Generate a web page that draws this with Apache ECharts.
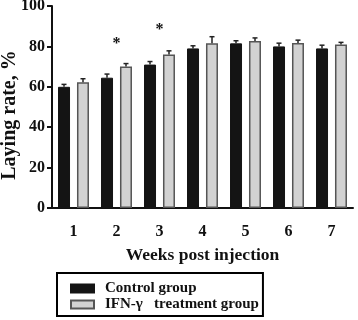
<!DOCTYPE html>
<html>
<head>
<meta charset="utf-8">
<script src="https://cdn.jsdelivr.net/npm/echarts@6/dist/echarts.min.js"></script>
<style>
  html, body { margin: 0; padding: 0; background: #fff; }
  #chart { width: 358px; height: 320px; }
</style>
</head>
<body>
<div id="chart"></div>
<script>
  // weeks post injection
  const weeks = ['1', '2', '3', '4', '5', '6', '7'];
  const controlRate = [60, 64.5, 71, 79, 81.5, 80, 79];
  const controlErr = [1.2, 1.8, 1.5, 1.3, 1.3, 1.6, 1.6];
  const ifnRate = [62.2, 70, 76, 81.5, 82.7, 81.7, 81];
  const ifnErr = [1.8, 1.5, 1.8, 3.3, 1.5, 1.4, 1.0];
  // significance marks: [week index, height]
  const stars = [[1, 83], [2, 90]];
  const yTicks = [0, 20, 40, 60, 80, 100];

  const fontFamily = '"Liberation Serif", "DejaVu Serif", serif';
  const barW = 12;
  const half = 9.5; // bar centre offset from category centre

  const errData = [];
  controlRate.forEach(function (v, i) { errData.push([i, v, controlErr[i], -1]); });
  ifnRate.forEach(function (v, i) { errData.push([i, v, ifnErr[i], 1]); });

  var chart = echarts.init(document.getElementById('chart'));
  var option = {
    animation: false,
    grid: { left: 52, right: 5, top: 6, bottom: 112, containLabel: false, outerBoundsMode: 'none' },
    legend: {
      orient: 'vertical',
      left: 57,
      top: 273,
      height: 40,
      padding: [8, 4, 4, 13],
      itemGap: 1,
      itemWidth: 23,
      itemHeight: 8,
      icon: 'rect',
      borderColor: '#000',
      borderWidth: 2,
      borderRadius: 0,
      textStyle: { fontFamily: fontFamily, fontWeight: 'bold', fontSize: 15, color: '#111', padding: [0, 0, 0, 6] },
      data: ['Control group', 'IFN-\u03b3   treatment group']
    },
    xAxis: {
      type: 'category',
      data: weeks,
      name: 'Weeks post injection',
      nameLocation: 'middle',
      nameGap: 38,
      nameTextStyle: { fontFamily: fontFamily, fontWeight: 'bold', fontSize: 17.5, color: '#111' },
      axisLine: { lineStyle: { color: '#111', width: 2 } },
      axisTick: { alignWithLabel: true, length: 5, lineStyle: { color: '#111', width: 2 } },
      axisLabel: { fontFamily: fontFamily, fontWeight: 'bold', fontSize: 16, color: '#111', margin: 16 }
    },
    yAxis: {
      type: 'value',
      min: 0,
      max: 100,
      interval: 20,
      name: 'Laying rate, %',
      nameLocation: 'middle',
      nameRotate: 90,
      nameGap: 32,
      nameMoveOverlap: false,
      nameTextStyle: { fontFamily: fontFamily, fontWeight: 'bold', fontSize: 20, color: '#111', padding: [0, 16, 0, 0] },
      axisLine: { show: true, lineStyle: { color: '#111', width: 2 } },
      axisTick: { show: true, length: 5, lineStyle: { color: '#111', width: 2 } },
      splitLine: { show: false },
      axisLabel: {
        fontFamily: fontFamily, fontWeight: 'bold', fontSize: 16, color: '#111', margin: 7,
        formatter: function (v) { return yTicks.indexOf(v) >= 0 ? String(v) : ''; }
      }
    },
    series: [
      {
        name: 'Control group',
        type: 'bar',
        barWidth: barW,
        barGap: '58%',
        itemStyle: { color: '#141414', borderColor: '#141414', borderWidth: 1 },
        data: controlRate
      },
      {
        name: 'IFN-\u03b3   treatment group',
        type: 'bar',
        barWidth: barW,
        itemStyle: { color: '#d2d2d2', borderColor: '#555', borderWidth: 1.5 },
        data: ifnRate
      },
      {
        type: 'custom',
        silent: true,
        data: errData,
        z: 5,
        renderItem: function (params, api) {
          var i = api.value(0), v = api.value(1), e = api.value(2), side = api.value(3);
          var p0 = api.coord([i, v]);
          var p1 = api.coord([i, v + e]);
          var x = p0[0] + side * half;
          return {
            type: 'group',
            children: [
              { type: 'line', shape: { x1: x, y1: p0[1], x2: x, y2: p1[1] }, style: { stroke: '#222', lineWidth: 1.5 } },
              { type: 'line', shape: { x1: x - 2.5, y1: p1[1], x2: x + 2.5, y2: p1[1] }, style: { stroke: '#222', lineWidth: 1.5 } }
            ]
          };
        }
      },
      {
        type: 'custom',
        silent: true,
        data: stars,
        renderItem: function (params, api) {
          var p = api.coord([api.value(0), api.value(1)]);
          return {
            type: 'text',
            style: {
              text: '*', x: p[0], y: p[1] + 4, align: 'center', verticalAlign: 'middle',
              fontFamily: fontFamily, fontWeight: 'bold', fontSize: 16, fill: '#111'
            }
          };
        }
      }
    ]
  };
  chart.setOption(option);
</script>
</body>
</html>
